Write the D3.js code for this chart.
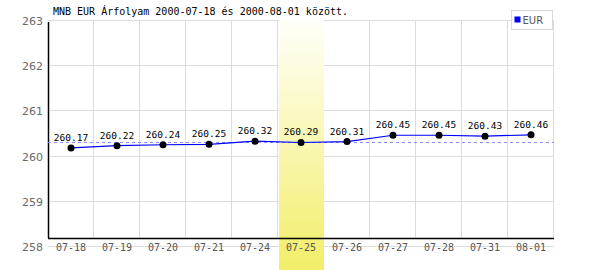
<!DOCTYPE html>
<html>
<head>
<meta charset="utf-8">
<script src="https://cdn.jsdelivr.net/npm/d3@7"></script>
<style>
  body { margin: 0; background: #fff; }
  svg { display: block; }
</style>
</head>
<body>
<svg id="chart" width="600" height="270"></svg>
<script>
// === data ===
const dates = ["07-18", "07-19", "07-20", "07-21", "07-24", "07-25", "07-26", "07-27", "07-28", "07-31", "08-01"];
const eurRates = [260.17, 260.22, 260.24, 260.25, 260.32, 260.29, 260.31, 260.45, 260.45, 260.43, 260.46];
const yTicks = [258, 259, 260, 261, 262, 263];
const highlightDate = "07-25";
const seriesName = "EUR";
const titleText = "MNB EUR Árfolyam 2000-07-18 és 2000-08-01 között.";

const svg = d3.select("#chart");
const plotLeft = 48, plotRight = 554, plotTop = 20, plotBottom = 246, axisY = 238;

const x = d3.scaleBand().domain(dates).range([plotLeft, plotRight]);
const y = d3.scaleLinear().domain([258, 263]).range([plotBottom, plotTop]);

// gradient for the highlighted day
const defs = svg.append("defs");
const grad = defs.append("linearGradient")
  .attr("id", "hl").attr("x1", 0).attr("y1", 0).attr("x2", 0).attr("y2", 1);
grad.append("stop").attr("offset", "0%").attr("stop-color", "#fffffa");
grad.append("stop").attr("offset", "100%").attr("stop-color", "#f2ee68");

// grid
svg.append("g").selectAll("line")
  .data(yTicks)
  .join("line")
  .attr("x1", plotLeft).attr("x2", plotRight)
  .attr("y1", d => Math.round(y(d)) + 0.5).attr("y2", d => Math.round(y(d)) + 0.5)
  .attr("stroke", "#dcdcdc");

svg.append("g").selectAll("line")
  .data(dates)
  .join("line")
  .attr("x1", d => Math.round(x(d) + x.bandwidth()) - 0.5)
  .attr("x2", d => Math.round(x(d) + x.bandwidth()) - 0.5)
  .attr("y1", plotTop).attr("y2", axisY)
  .attr("stroke", "#dcdcdc");

// highlight band
svg.append("rect")
  .attr("x", x(highlightDate) + 1)
  .attr("y", plotTop)
  .attr("width", x.bandwidth() - 1)
  .attr("height", 270 - plotTop)
  .attr("fill", "url(#hl)");

// axes lines
svg.append("line")
  .attr("x1", plotLeft + 0.5).attr("x2", plotLeft + 0.5)
  .attr("y1", plotTop + 2).attr("y2", axisY)
  .attr("stroke", "#000").attr("stroke-width", 1.5);
svg.append("line")
  .attr("x1", plotLeft).attr("x2", plotRight)
  .attr("y1", axisY + 0.5).attr("y2", axisY + 0.5)
  .attr("stroke", "#000").attr("stroke-width", 1.5);

// y labels
svg.append("g").selectAll("text")
  .data(yTicks)
  .join("text")
  .attr("x", 43)
  .attr("y", d => y(d) + 5)
  .attr("text-anchor", "end")
  .attr("font-family", "DejaVu Sans, sans-serif")
  .attr("font-size", "11px")
  .attr("fill", "#6a6a6a")
  .text(d => d);

// x labels
svg.append("g").selectAll("text")
  .data(dates)
  .join("text")
  .attr("x", d => x(d) + x.bandwidth() / 2)
  .attr("y", 251)
  .attr("text-anchor", "middle")
  .attr("font-family", "DejaVu Sans Mono, monospace")
  .attr("font-size", "10px")
  .attr("fill", "#555")
  .text(d => d);

// average dashed line
const avg = d3.mean(eurRates);
svg.append("line")
  .attr("x1", plotLeft).attr("x2", plotRight)
  .attr("y1", Math.round(y(avg)) + 1.5).attr("y2", Math.round(y(avg)) + 1.5)
  .attr("stroke", "#8c8cff")
  .attr("stroke-dasharray", "3,3");

// series line
const pts = dates.map((d, i) => [x(d) + x.bandwidth() / 2, y(eurRates[i])]);
svg.append("path")
  .attr("d", d3.line()(pts))
  .attr("fill", "none")
  .attr("stroke", "#0000ff")
  .attr("stroke-width", 1.2);

svg.append("g").selectAll("circle")
  .data(pts)
  .join("circle")
  .attr("cx", d => d[0]).attr("cy", d => d[1])
  .attr("r", 3.5)
  .attr("fill", "#000");

svg.append("g").selectAll("text")
  .data(pts)
  .join("text")
  .attr("x", d => d[0])
  .attr("y", d => d[1] - 7)
  .attr("text-anchor", "middle")
  .attr("font-family", "DejaVu Sans Mono, monospace")
  .attr("font-size", "9.5px")
  .attr("fill", "#000")
  .text((d, i) => eurRates[i].toFixed(2));

// title
svg.append("text")
  .attr("x", 53).attr("y", 15)
  .attr("font-family", "DejaVu Sans Mono, monospace")
  .attr("font-size", "10px")
  .attr("fill", "#000")
  .text(titleText);

// legend
const legend = svg.append("g").attr("transform", "translate(511.5, 10.5)");
legend.append("rect")
  .attr("width", 41).attr("height", 19)
  .attr("fill", "#fff").attr("stroke", "#d8d8d8");
legend.append("rect")
  .attr("x", 3).attr("y", 6).attr("width", 6).attr("height", 6)
  .attr("fill", "#0000ff");
legend.append("text")
  .attr("x", 11).attr("y", 13)
  .attr("font-family", "DejaVu Sans, sans-serif")
  .attr("font-size", "10px")
  .attr("fill", "#555")
  .text(seriesName);
</script>
</body>
</html>
